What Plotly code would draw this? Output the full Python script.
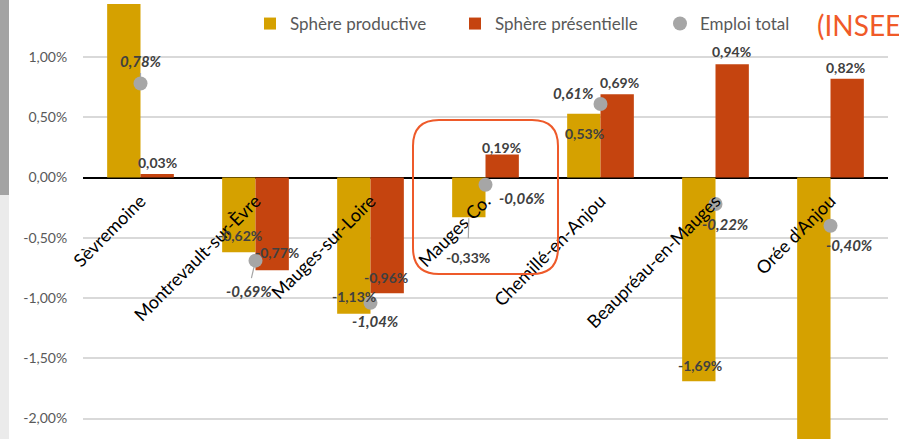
import plotly.graph_objects as go

# ---------------- data ----------------
categories = ["Sèvremoine", "Montrevault-sur-Èvre", "Mauges-sur-Loire", "Mauges Co.",
              "Chemillé-en-Anjou", "Beaupréau-en-Mauges", "Orée d'Anjou"]
sphere_productive = [1.47, -0.62, -1.13, -0.33, 0.53, -1.69, -2.25]
sphere_presentielle = [0.03, -0.77, -0.96, 0.19, 0.69, 0.94, 0.82]
emploi_total = [0.78, -0.69, -1.04, -0.06, 0.61, -0.22, -0.40]
tick_values = [-2.0, -1.5, -1.0, -0.5, 0.0, 0.5, 1.0]
tick_labels = ["-2,00%", "-1,50%", "-1,00%", "-0,50%", "0,00%", "0,50%", "1,00%"]
series_names = ["Sphère productive", "Sphère présentielle", "Emploi total"]
source_label = "(INSEE)"

# ---------------- style / layout ----------------
W, H = 899, 439
ML, MR, MT, MB = 83, 11, 4, 0
Y_RANGE = [-2.17, 1.44]
X_RANGE = [-0.5, 6.5]
BAR_W = 0.29
C_PROD = "#D5A100"
C_PRES = "#C5440F"
C_TOT = "#A6A6A6"
C_LABEL = "#404040"
FONT = "Lato"

# label pixel offsets (dx right, dy down) relative to the value point
prod_off = [(0, 23), (1, -17), (0, -17), (-1, 40), (1, 20), (1, -16), (1, -17)]
pres_off = [(0, -11), (5, -18), (-1, -16), (-1, -7), (2, -12), (-1, -13), (-2, -11)]
tot_off = [(0, -23), (-7, 30), (5, 18), (36, 13), (-27, -11), (10, 20), (19, 19)]
prod_arrow = [False, False, False, True, False, False, False]
tot_arrow = [True, True, False, False, False, False, False]

PW = W - ML - MR
PH = H - MT - MB


def px_x(px):
    return (px - ML) / PW


def px_y(py):
    return 1 - (py - MT) / PH


def fmt(v):
    return f"{v:.2f}".replace(".", ",") + "%"


fig = go.Figure()
fig.add_trace(go.Bar(x=categories, y=sphere_productive, name=series_names[0],
                     width=BAR_W, offset=-BAR_W, marker=dict(color=C_PROD, line=dict(width=0))))
fig.add_trace(go.Bar(x=categories, y=sphere_presentielle, name=series_names[1],
                     width=BAR_W, offset=0, marker=dict(color=C_PRES, line=dict(width=0))))
fig.add_trace(go.Scatter(x=categories, y=emploi_total, name=series_names[2], mode="markers",
                         marker=dict(color=C_TOT, size=14)))

ann = []
for i, v in enumerate(sphere_productive):
    dx, dy = prod_off[i]
    xc = i - BAR_W / 2
    f = dict(family=FONT, size=14, color=C_LABEL, weight="bold")
    if prod_arrow[i]:
        ann.append(dict(x=xc, y=v, xref="x", yref="y", text=fmt(v), showarrow=True,
                        ax=dx, ay=dy, arrowhead=0, arrowwidth=1.2, arrowcolor=C_TOT,
                        standoff=1, startstandoff=9, font=f))
    else:
        ann.append(dict(x=xc, y=v, xref="x", yref="y", text=fmt(v), showarrow=False,
                        xshift=dx, yshift=-dy, font=f))
for i, v in enumerate(sphere_presentielle):
    dx, dy = pres_off[i]
    ann.append(dict(x=i + BAR_W / 2, y=v, xref="x", yref="y", text=fmt(v), showarrow=False,
                    xshift=dx, yshift=-dy,
                    font=dict(family=FONT, size=14, color=C_LABEL, weight="bold")))
for i, v in enumerate(emploi_total):
    dx, dy = tot_off[i]
    f = dict(family=FONT, size=15, color=C_LABEL, weight="bold", style="italic")
    if tot_arrow[i]:
        ann.append(dict(x=i, y=v, xref="x", yref="y", text=fmt(v), showarrow=True,
                        ax=dx, ay=dy, arrowhead=0, arrowwidth=1.2, arrowcolor=C_TOT,
                        standoff=6, startstandoff=2, font=f))
    else:
        ann.append(dict(x=i, y=v, xref="x", yref="y", text=fmt(v), showarrow=False,
                        xshift=dx, yshift=-dy, font=f))

# source fragment (cut at the right edge, as in the reference)
ann.append(dict(x=px_x(815), y=px_y(25), xref="paper", yref="paper", text=source_label,
                showarrow=False, xanchor="left", yanchor="middle",
                font=dict(family=FONT, size=28, color="#F05A28")))

# rounded highlight rectangle
L, R, T, B, r = 413, 558, 120, 274, 26
path = (f"M{px_x(L + r)},{px_y(T)} L{px_x(R - r)},{px_y(T)} Q{px_x(R)},{px_y(T)} {px_x(R)},{px_y(T + r)} "
        f"L{px_x(R)},{px_y(B - r)} Q{px_x(R)},{px_y(B)} {px_x(R - r)},{px_y(B)} "
        f"L{px_x(L + r)},{px_y(B)} Q{px_x(L)},{px_y(B)} {px_x(L)},{px_y(B - r)} "
        f"L{px_x(L)},{px_y(T + r)} Q{px_x(L)},{px_y(T)} {px_x(L + r)},{px_y(T)} Z")
shapes = [
    dict(type="path", path=path, xref="paper", yref="paper",
         line=dict(color="#EE5A2A", width=2)),
    dict(type="rect", xref="paper", yref="paper", x0=px_x(0), x1=px_x(9), y0=px_y(195), y1=px_y(-5),
         fillcolor="#A3A3A3", line=dict(width=0), layer="below"),
    dict(type="rect", xref="paper", yref="paper", x0=px_x(0), x1=px_x(9), y0=px_y(445), y1=px_y(195),
         fillcolor="#EBEBEB", line=dict(width=0), layer="below"),
]

zero_pos = (0 - Y_RANGE[0]) / (Y_RANGE[1] - Y_RANGE[0])

fig.update_layout(
    width=W, height=H,
    margin=dict(l=ML, r=MR, t=MT, b=MB, pad=0),
    paper_bgcolor="white", plot_bgcolor="white",
    barmode="overlay",
    font=dict(family=FONT),
    showlegend=True,
    legend=dict(orientation="h", x=px_x(250), y=px_y(6), xanchor="left", yanchor="top",
                bgcolor="rgba(0,0,0,0)", font=dict(family=FONT, size=17, color="#595959"),
                entrywidth=160, itemwidth=30, traceorder="normal"),
    xaxis=dict(type="category", range=X_RANGE, anchor="free", position=zero_pos,
               showgrid=False, showline=False, zeroline=False,
               ticks="outside", ticklen=5, tickcolor="rgba(0,0,0,0)",
               tickangle=-45, tickfont=dict(family=FONT, size=18, color="black"),
               automargin=False, fixedrange=True),
    yaxis=dict(range=Y_RANGE, tickvals=tick_values, ticktext=tick_labels,
               showgrid=True, gridcolor="#D9D9D9", gridwidth=1.5,
               zeroline=True, zerolinecolor="black", zerolinewidth=1.5,
               showline=False, ticks="outside", ticklen=12, tickcolor="rgba(0,0,0,0)",
               tickfont=dict(family=FONT, size=14, color="#595959"),
               automargin=False, fixedrange=True),
    annotations=ann,
    shapes=shapes,
)

fig.write_html("out.html", config={"displayModeBar": False},
               post_script="document.body.style.margin='0';document.body.style.overflow='hidden';")
